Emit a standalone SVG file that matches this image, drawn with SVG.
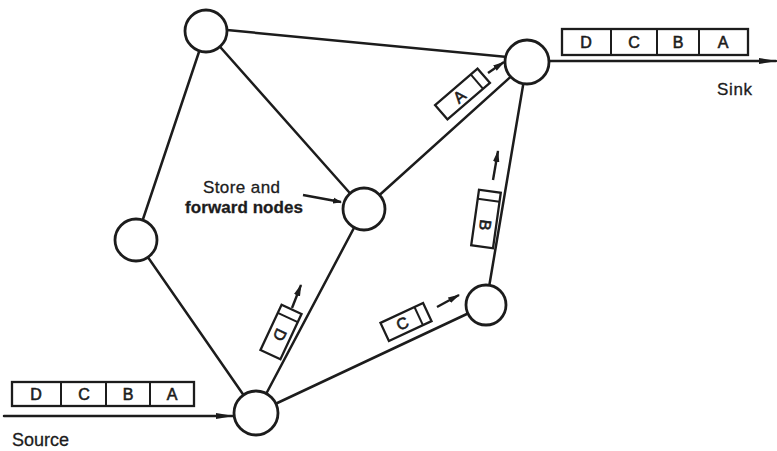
<svg xmlns="http://www.w3.org/2000/svg" width="777" height="451" viewBox="0 0 777 451">
<defs>
<style>
.edge{stroke:#1c1c1c;stroke-width:2.5;fill:none;stroke-linecap:round}
.node{fill:#fff;stroke:#1c1c1c;stroke-width:2.8}
.box{fill:#fff;stroke:#1c1c1c;stroke-width:2.3}
.div{stroke:#1c1c1c;stroke-width:2}
.lbl{font-family:"Liberation Sans",Arial,sans-serif;fill:#1c1c1c;stroke:#1c1c1c;stroke-width:0.3}
.let{font-family:"Liberation Sans",Arial,sans-serif;font-size:16px;fill:#1c1c1c;text-anchor:middle;stroke:#1c1c1c;stroke-width:0.6}
.arr{stroke:#1c1c1c;stroke-width:2.4;fill:none}
</style>
<marker id="ah" markerWidth="12" markerHeight="8" refX="11" refY="4" orient="auto" markerUnits="userSpaceOnUse">
<path d="M0,0.8 L12,4 L0,7.2 Z" fill="#1c1c1c"/>
</marker>
<marker id="ahs" markerWidth="9" markerHeight="7" refX="8" refY="3.5" orient="auto" markerUnits="userSpaceOnUse">
<path d="M0,0.5 L9,3.5 L0,6.5 Z" fill="#1c1c1c"/>
</marker>
<marker id="ahl" markerWidth="18" markerHeight="8" refX="17" refY="4" orient="auto" markerUnits="userSpaceOnUse">
<path d="M0,1 L18,4 L0,7 Z" fill="#1c1c1c"/>
</marker>
</defs>
<rect width="777" height="451" fill="#fff"/>
<g id="connectors">
<line class="edge" x1="206" y1="28" x2="527" y2="59"/>
<line class="edge" x1="206" y1="31" x2="136" y2="240"/>
<line class="edge" x1="206" y1="31" x2="364" y2="209"/>
<line class="edge" x1="527" y1="62" x2="364" y2="209"/>
<line class="edge" x1="527" y1="62" x2="486" y2="305"/>
<line class="edge" x1="364" y1="209" x2="256" y2="413"/>
<line class="edge" x1="136" y1="240" x2="256" y2="413"/>
<line class="edge" x1="486" y1="305" x2="256" y2="413"/>
<line class="edge" x1="549" y1="61" x2="776" y2="61" marker-end="url(#ahl)"/>
<line class="edge" x1="4" y1="416" x2="233" y2="416" marker-end="url(#ahl)"/>
<line class="arr" x1="303" y1="195" x2="341" y2="202" stroke-width="1.6" marker-end="url(#ahs)"/>
<line class="arr" x1="488" y1="73" x2="504" y2="62" marker-end="url(#ah)"/>
<line class="arr" x1="493" y1="180" x2="498" y2="151" marker-end="url(#ah)"/>
<line class="arr" x1="292" y1="308" x2="301" y2="285" marker-end="url(#ah)"/>
<line class="arr" x1="437" y1="307" x2="459" y2="295" marker-end="url(#ah)"/>
</g>
<g id="n1"><circle class="node" cx="206" cy="31" r="21"/></g>
<g id="n2"><circle class="node" cx="527" cy="62" r="22"/></g>
<g id="n3"><circle class="node" cx="136" cy="240" r="21"/></g>
<g id="n4"><circle class="node" cx="364" cy="209" r="21"/></g>
<g id="n5"><circle class="node" cx="486" cy="305" r="20"/></g>
<g id="n6"><circle class="node" cx="256" cy="413" r="22"/></g>
<g id="sink-queue">
<rect class="box" x="562" y="29" width="186" height="26"/>
<line class="div" x1="611" y1="29" x2="611" y2="55"/>
<line class="div" x1="657" y1="29" x2="657" y2="55"/>
<line class="div" x1="699" y1="29" x2="699" y2="55"/>
<text class="let" x="586" y="48">D</text>
<text class="let" x="634" y="48">C</text>
<text class="let" x="678" y="48">B</text>
<text class="let" x="723" y="48">A</text>
</g>
<g id="source-queue">
<rect class="box" x="12" y="382" width="182" height="24"/>
<line class="div" x1="61" y1="382" x2="61" y2="406"/>
<line class="div" x1="106" y1="382" x2="106" y2="406"/>
<line class="div" x1="150" y1="382" x2="150" y2="406"/>
<text class="let" x="36" y="400">D</text>
<text class="let" x="84" y="400">C</text>
<text class="let" x="128" y="400">B</text>
<text class="let" x="172" y="400">A</text>
</g>
<g id="packet-a" transform="translate(462.5,94) rotate(-40.7)">
<rect class="box" x="-28" y="-9.5" width="56" height="19"/>
<line class="div" x1="19" y1="-9.5" x2="19" y2="9.5"/>
<text class="let" x="-4" y="5.5">A</text>
</g>
<g id="packet-b" transform="translate(486,219) rotate(-82)">
<rect class="box" x="-28" y="-11" width="56" height="22"/>
<line class="div" x1="19" y1="-11" x2="19" y2="11"/>
<text class="let" transform="translate(-6,0) rotate(180)" y="5.5">B</text>
</g>
<g id="packet-d" transform="translate(281,332) rotate(-65)">
<rect class="box" x="-25" y="-11" width="50" height="22"/>
<line class="div" x1="16" y1="-11" x2="16" y2="11"/>
<text class="let" transform="translate(-3,0) rotate(180)" y="5.5">D</text>
</g>
<g id="packet-c" transform="translate(406,322) rotate(-25)">
<rect class="box" x="-23.5" y="-10" width="47" height="20"/>
<line class="div" x1="14" y1="-10" x2="14" y2="10"/>
<text class="let" x="-4" y="5.5">C</text>
</g>
<g id="labels">
<text class="lbl" x="717" y="95" font-size="17" textLength="35">Sink</text>
<text class="lbl" x="12" y="446" font-size="18" textLength="57">Source</text>
<text class="lbl" x="203" y="193" font-size="17" textLength="77">Store and</text>
<text class="lbl" x="185" y="213" font-size="17" font-weight="bold" textLength="118">forward nodes</text>
</g>
</svg>
